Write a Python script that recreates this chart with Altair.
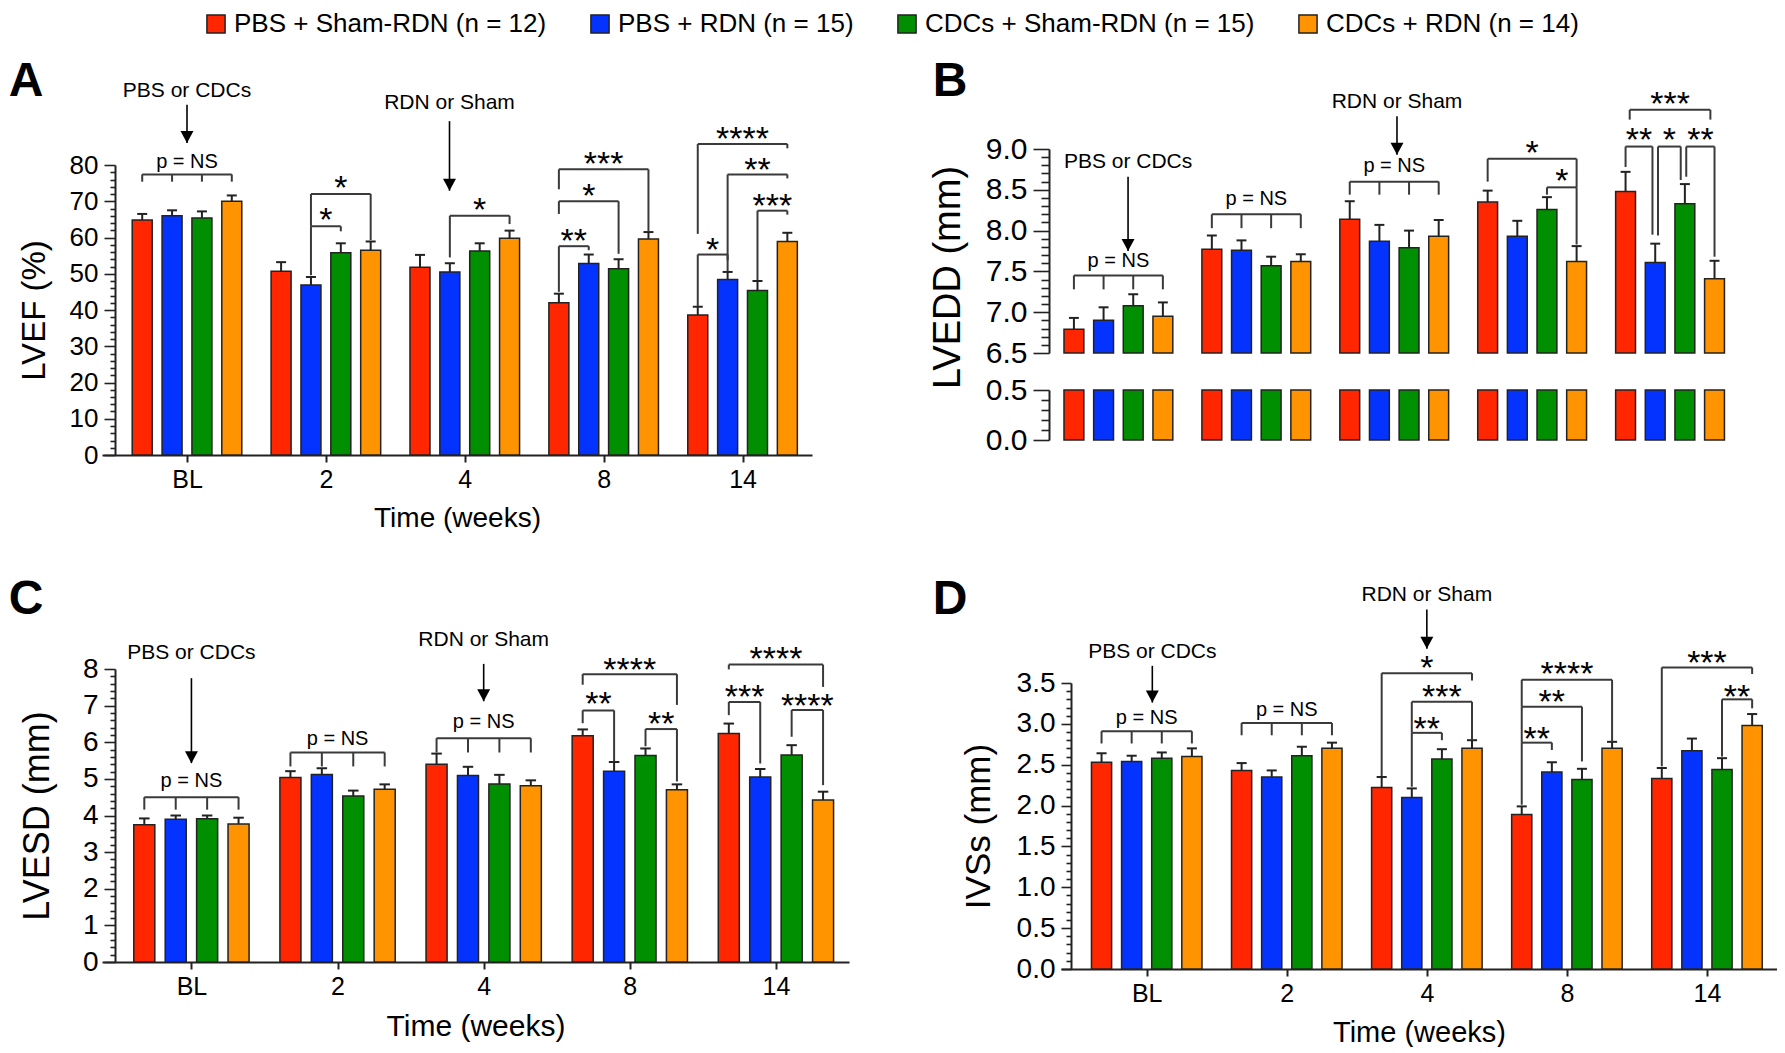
import altair as alt
import pandas as pd

FONT = "Liberation Sans"
INK = "#222222"
BRK = "#3a3a3a"

groups = ["BL", "2", "4", "8", "14"]
series = ["PBS + Sham-RDN (n = 12)", "PBS + RDN (n = 15)",
          "CDCs + Sham-RDN (n = 15)", "CDCs + RDN (n = 14)"]
colors = ["#ff2600", "#0433ff", "#008f00", "#ff9300"]

# ---- values (mean, SEM) : rows = series, columns = time points ----
lvef_mean = [[64.8, 50.7, 51.8, 42.0, 38.6], [66.0, 46.9, 50.5, 52.8, 48.4],
             [65.4, 55.8, 56.3, 51.4, 45.4], [70.0, 56.5, 59.8, 59.6, 58.9]]
lvef_sem = [[1.7, 2.5, 3.4, 2.5, 2.3], [1.5, 2.2, 2.4, 2.5, 2.1],
            [1.8, 2.6, 2.1, 2.6, 2.6], [1.6, 2.4, 2.1, 1.9, 2.4]]

lvedd_mean = [[6.79, 7.77, 8.14, 8.35, 8.48], [6.90, 7.76, 7.87, 7.93, 7.61],
              [7.08, 7.57, 7.79, 8.26, 8.33], [6.95, 7.62, 7.93, 7.62, 7.41]]
lvedd_sem = [[0.14, 0.17, 0.22, 0.14, 0.24], [0.16, 0.12, 0.20, 0.19, 0.23],
             [0.14, 0.11, 0.21, 0.15, 0.24], [0.17, 0.09, 0.20, 0.19, 0.22]]

lvesd_mean = [[3.75, 5.04, 5.40, 6.18, 6.24], [3.90, 5.12, 5.09, 5.21, 5.05],
              [3.91, 4.53, 4.86, 5.64, 5.65], [3.77, 4.72, 4.81, 4.70, 4.42]]
lvesd_sem = [[0.17, 0.17, 0.29, 0.17, 0.27], [0.10, 0.17, 0.24, 0.25, 0.22],
             [0.09, 0.15, 0.25, 0.19, 0.27], [0.17, 0.13, 0.15, 0.15, 0.23]]

ivss_mean = [[2.53, 2.43, 2.22, 1.89, 2.33], [2.54, 2.35, 2.10, 2.41, 2.67],
             [2.58, 2.61, 2.57, 2.32, 2.44], [2.60, 2.70, 2.70, 2.70, 2.98]]
ivss_sem = [[0.11, 0.09, 0.13, 0.10, 0.13], [0.07, 0.08, 0.11, 0.12, 0.15],
            [0.07, 0.11, 0.12, 0.13, 0.14], [0.10, 0.07, 0.10, 0.08, 0.14]]

# ---- significance annotations ----
# "p = NS" brackets: (time index, bracket height, leg end, label height)
ns_A = [(0, 77.4, 75.4, 80.8)]
ns_B = [(0, 7.45, 7.28, 7.63), (1, 8.20, 8.03, 8.39), (2, 8.60, 8.44, 8.79)]
ns_C = [(0, 4.50, 4.16, 4.93), (1, 5.72, 5.34, 6.09), (2, 6.11, 5.72, 6.54)]
ns_D = [(0, 2.91, 2.76, 3.07), (1, 3.01, 2.86, 3.17)]

# pairwise brackets: (time, left group, right group, height, left leg end,
#                     right leg end, stars, star height, left inset, right inset)
br_A = [(1, 1, 2, 63.1, 49.6, 61.7, "*", 66.4, 0, 0),
        (1, 1, 3, 72.0, 63.1, 59.3, "*", 75.4, 0, 0),
        (2, 1, 3, 66.0, 54.5, 63.7, "*", 69.2, 0, 0),
        (3, 0, 1, 57.6, 45.0, 56.5, "**", 60.8, 0, 0),
        (3, 0, 2, 70.0, 66.5, 55.5, "*", 73.0, 0, 0),
        (3, 0, 3, 78.8, 73.3, 61.7, "***", 82.0, 0, 0),
        (4, 0, 1, 55.3, 41.0, 53.7, "*", 58.2, 0, 0),
        (4, 2, 3, 67.4, 48.2, 66.3, "***", 70.4, 0, 0),
        (4, 1, 3, 77.4, 50.7, 76.3, "**", 80.4, 0, 0),
        (4, 0, 3, 85.8, 61.0, 84.6, "****", 88.8, 0, 0)]
br_B = [(3, 0, 3, 8.88, 8.60, 8.53, "*", 9.03, 0, 0),
        (3, 2, 3, 8.53, 8.44, 7.83, "*", 8.68, 0, 0),
        (4, 0, 3, 9.48, 9.36, 9.36, "***", 9.63, 0.03, -0.03),
        (4, 0, 1, 9.03, 8.78, 7.95, "**", 9.18, 0, -0.02),
        (4, 1, 2, 9.03, 7.94, 8.62, "*", 9.18, 0.02, -0.03),
        (4, 2, 3, 9.03, 8.66, 7.68, "**", 9.18, 0.01, 0)]
br_C = [(3, 0, 1, 6.87, 6.52, 5.48, "**", 7.20, 0, 0),
        (3, 2, 3, 6.36, 5.89, 4.93, "**", 6.66, 0, 0),
        (3, 0, 3, 7.86, 7.57, 7.02, "****", 8.14, 0, 0),
        (4, 0, 3, 8.12, 7.99, 7.51, "****", 8.44, 0, 0),
        (4, 0, 1, 7.10, 6.74, 5.42, "***", 7.40, 0, 0),
        (4, 2, 3, 6.88, 6.15, 4.83, "****", 7.16, 0, 0)]
br_D = [(2, 0, 3, 3.62, 2.36, 3.53, "*", 3.76, 0, 0),
        (2, 1, 3, 3.27, 2.89, 2.80, "***", 3.40, 0, 0),
        (2, 1, 2, 2.89, 2.23, 2.80, "**", 3.01, 0, 0),
        (3, 0, 1, 2.77, 2.01, 2.68, "**", 2.89, 0, 0),
        (3, 0, 2, 3.21, 2.77, 2.54, "**", 3.34, 0, 0),
        (3, 0, 3, 3.54, 3.21, 2.78, "****", 3.68, 0, 0),
        (4, 0, 3, 3.69, 2.48, 3.61, "***", 3.82, 0, 0),
        (4, 2, 3, 3.30, 2.60, 3.19, "**", 3.40, 0, 0)]

# intervention arrows: (x position on time axis, text height, line start, arrow tip, text)
ar_A = [(0.0, 100.5, 96.6, 86.1, "PBS or CDCs"), (1.89, 97.1, 92.1, 72.9, "RDN or Sham")]
ar_B = [(0.07, 8.84, 8.66, 7.75, "PBS or CDCs"), (2.02, 9.57, 9.40, 8.93, "RDN or Sham")]
ar_C = [(0.0, 8.45, 7.75, 5.43, "PBS or CDCs"), (2.0, 8.80, 8.14, 7.12, "RDN or Sham")]
ar_D = [(0.04, 3.88, 3.71, 3.26, "PBS or CDCs"), (2.0, 4.58, 4.40, 3.92, "RDN or Sham")]

# ---- geometry / style ----
STEP, HALF, CAP = 0.215, 0.072, 0.036
XDOM = [-0.612, 4.5]
x_label_expr = "[" + ",".join("'%s'" % g for g in groups) + "][datum.value]"
color_scale = alt.Scale(domain=series, range=colors)
legend = alt.Legend(title=None, orient="none", legendX=101, legendY=-138,
                    direction="horizontal", symbolType="square", symbolSize=330,
                    symbolStrokeColor=INK, symbolStrokeWidth=1.5, symbolOpacity=1,
                    labelFont=FONT, labelFontSize=26, labelColor="black",
                    columnPadding=40, labelOffset=5, labelLimit=0)


def xpos(g, s):
    return g + (s - 1.5) * STEP


def long_df(means, sems):
    rows = []
    for s, name in enumerate(series):
        for g in range(len(groups)):
            rows.append(dict(name=name, si=s, g=g, mean=means[s][g],
                             top=means[s][g] + sems[s][g]))
    return pd.DataFrame(rows)


def x_axis(title_size):
    return alt.Axis(values=list(range(len(groups))), labelExpr=x_label_expr,
                    tickCount=50,
                    title="Time (weeks)", grid=False, tickSize=7, tickWidth=2,
                    tickColor=INK, domainColor=INK, domainWidth=2,
                    labelFont=FONT, labelFontSize=25, labelColor="black",
                    labelPadding=5, labelFlush=False, labelOverlap=False,
                    titleFont=FONT, titleFontSize=title_size, titleFontWeight="normal",
                    titleColor="black", titlePadding=12)


def y_axis(values, fmt, title, offset, label_size, title_size, title_pad,
           tick_len, title_y=None):
    kw = dict(values=values, tickCount=500, format=fmt, orient="left", tickSize=tick_len,
              tickWidth=1.6, tickColor=INK, domainColor=INK, domainWidth=2,
              grid=False, offset=offset, labelFont=FONT, labelFontSize=label_size,
              labelColor="black", labelPadding=6, labelOverlap=False, labelFlush=False,
              titleFont=FONT, titleFontSize=title_size, titleFontWeight="normal",
              titleColor="black", titlePadding=title_pad, title=title)
    if title_y is not None:
        kw["titleY"] = title_y
    return alt.Axis(**kw)


def minor_ticks(xscale, yscale, values, offset, tick_len):
    """Second (label-less) axis on an identical scale that draws the minor ticks."""
    return alt.Chart(pd.DataFrame({"g": [0.0], "v": [values[0]]})).mark_point(
        opacity=0).encode(
        x=alt.X("g:Q", scale=xscale),
        y=alt.Y("v:Q", scale=yscale,
                axis=alt.Axis(values=values, tickCount=500, orient="left", offset=offset,
                              labels=False, domain=False, grid=False, tickSize=tick_len,
                              tickWidth=1.6, tickColor=INK, title=None)))


def bar_layers(df, xscale, yscale, yax, xax, ybase, with_errors=True):
    base = alt.Chart(df).transform_calculate(
        xc="datum.g + (datum.si - 1.5) * %s" % STEP,
    ).transform_calculate(
        xl="datum.xc - %s" % HALF, xr="datum.xc + %s" % HALF,
        cl="datum.xc - %s" % CAP, cr="datum.xc + %s" % CAP,
    )
    bars = base.mark_bar(stroke=INK, strokeWidth=1.5, opacity=1).encode(
        x=alt.X("xl:Q", scale=xscale, axis=xax),
        x2="xr:Q",
        y=alt.Y("mean:Q", scale=yscale, axis=yax),
        y2=alt.datum(ybase),
        color=alt.Color("name:N", scale=color_scale, legend=legend, sort=series),
    )
    layers = [bars]
    if with_errors:
        stems = base.mark_rule(color=INK, strokeWidth=2).encode(
            x=alt.X("xc:Q", scale=xscale), y=alt.Y("mean:Q", scale=yscale), y2="top:Q")
        caps = base.mark_rule(color=INK, strokeWidth=2).encode(
            x=alt.X("cl:Q", scale=xscale), x2="cr:Q", y=alt.Y("top:Q", scale=yscale))
        layers += [stems, caps]
    return layers


def annotation_layers(xscale, yscale, ns, brs, arrows, star_size):
    segs, stars, nslab = [], [], []
    for g, yt, yl, ly in ns:
        segs.append(dict(x=xpos(g, 0), x2=xpos(g, 3), y=yt, y2=yt))
        for s in range(4):
            segs.append(dict(x=xpos(g, s), x2=xpos(g, s), y=yt, y2=yl))
        nslab.append(dict(x=g, y=ly, t="p = NS"))
    for g, sl, sr, yt, yl, yr, lab, ly, dl, dr in brs:
        xl, xr = xpos(g, sl) + dl, xpos(g, sr) + dr
        segs.append(dict(x=xl, x2=xr, y=yt, y2=yt))
        segs.append(dict(x=xl, x2=xl, y=yt, y2=yl))
        segs.append(dict(x=xr, x2=xr, y=yt, y2=yr))
        stars.append(dict(x=(xl + xr) / 2, y=ly, t=lab))
    alines, aheads, atext = [], [], []
    for x, yt, ys, ye, lab in arrows:
        alines.append(dict(x=x, y=ys, y2=ye))
        aheads.append(dict(x=x, y=ye))
        atext.append(dict(x=x, y=yt, t=lab))
    X = lambda f: alt.X(f, scale=xscale)
    Y = lambda f: alt.Y(f, scale=yscale)
    layers = [
        alt.Chart(pd.DataFrame(segs)).mark_rule(color=BRK, strokeWidth=2).encode(
            x=X("x:Q"), x2="x2:Q", y=Y("y:Q"), y2="y2:Q"),
        alt.Chart(pd.DataFrame(alines)).mark_rule(color="black", strokeWidth=1.6).encode(
            x=X("x:Q"), y=Y("y:Q"), y2="y2:Q"),
        alt.Chart(pd.DataFrame(aheads)).mark_point(
            shape="M-1.08,-2L1.08,-2L0,0Z", size=144, filled=True, color="black",
            opacity=1, strokeWidth=0).encode(x=X("x:Q"), y=Y("y:Q")),
        alt.Chart(pd.DataFrame(atext)).mark_text(
            font=FONT, fontSize=21, color="black", baseline="middle").encode(
            x=X("x:Q"), y=Y("y:Q"), text="t:N"),
    ]
    if nslab:
        layers.append(alt.Chart(pd.DataFrame(nslab)).mark_text(
            font=FONT, fontSize=20, color="black", baseline="middle").encode(
            x=X("x:Q"), y=Y("y:Q"), text="t:N"))
    if stars:
        layers.append(alt.Chart(pd.DataFrame(stars)).mark_text(
            font=FONT, fontSize=star_size, color="black", baseline="middle",
            dy=round(star_size * 0.2)).encode(x=X("x:Q"), y=Y("y:Q"), text="t:N"))
    return layers


def letter(ch, px, py):
    return alt.Chart(pd.DataFrame({"t": [ch]})).mark_text(
        font=FONT, fontSize=48, fontWeight="bold", color="black",
        baseline="middle", align="center").encode(
        x=alt.value(px), y=alt.value(py), text="t:N")


def steps(lo, hi, st):
    n = int(round((hi - lo) / st))
    return [round(lo + i * st, 3) for i in range(n + 1)]


def minor_only(lo, hi, st, major):
    return [v for v in steps(lo, hi, st) if v not in steps(lo, hi, major)]


STAR = 34

# ---- Panel A (cell 710 x 306, plot area placed lower by 16 px) ----
xsA = alt.Scale(domain=XDOM, nice=False, zero=False, range=[0, 710])
ysA = alt.Scale(domain=[0, 80], nice=False, zero=False, range=[306, 16])
yaA = y_axis(steps(0, 80, 10), "d", "LVEF (%)", -13, 26, 33, 18, 11)
A = alt.layer(*bar_layers(long_df(lvef_mean, lvef_sem), xsA, ysA, yaA, x_axis(28), 0),
              *annotation_layers(xsA, ysA, ns_A, br_A, ar_A, STAR),
              letter("A", -76, -67))
A = alt.layer(A, minor_ticks(xsA, ysA, minor_only(0, 80, 2, 10), -13, 5)).resolve_scale(
    y="independent").properties(width=710, height=306)

# ---- Panel B (broken axis: two y scales in one cell) ----
xsB = alt.Scale(domain=XDOM, nice=False, zero=False, range=[0, 705])
ysBt = alt.Scale(domain=[6.5, 9.0], nice=False, zero=False, range=[204, 0])
yaBt = y_axis(steps(6.5, 9.0, 0.5), ".1f", "LVEDD (mm)", -15, 30, 38, 18, 16, title_y=128)
ysBb = alt.Scale(domain=[0, 0.5], nice=False, zero=False, clamp=True, range=[291, 241])
yaBb = y_axis(steps(0, 0.5, 0.5), ".1f", None, -15, 30, 38, 18, 16)
dfB = long_df(lvedd_mean, lvedd_sem)
B_top = alt.layer(*bar_layers(dfB, xsB, ysBt, yaBt, None, 6.5),
                  *annotation_layers(xsB, ysBt, ns_B, br_B, ar_B, STAR),
                  letter("B", -84, -67))
B_bot = alt.layer(*bar_layers(dfB, xsB, ysBb, yaBb, x_axis(31), 0, with_errors=False))
B = alt.layer(B_top, minor_ticks(xsB, ysBt, minor_only(6.5, 9.0, 0.1, 0.5), -15, 8),
              B_bot, minor_ticks(xsB, ysBb, minor_only(0, 0.5, 0.1, 0.5), -15, 8)).resolve_scale(
    y="independent").properties(width=705, height=291)

# ---- Panel C ----
xsC = alt.Scale(domain=XDOM, nice=False, zero=False, range=[0, 747])
ysC = alt.Scale(domain=[0, 8], nice=False, zero=False, range=[293, 0])
yaC = y_axis(steps(0, 8, 1), "d", "LVESD (mm)", -13, 28, 36, 26, 11)
C = alt.layer(*bar_layers(long_df(lvesd_mean, lvesd_sem), xsC, ysC, yaC, x_axis(30), 0),
              *annotation_layers(xsC, ysC, ns_C, br_C, ar_C, STAR),
              letter("C", -76, -69))
C = alt.layer(C, minor_ticks(xsC, ysC, minor_only(0, 8, 0.2, 1), -13, 5)).resolve_scale(
    y="independent").properties(width=747, height=293)

# ---- Panel D (cell 743 x 300, plot area shifted right 27 px and down 14 px) ----
xsD = alt.Scale(domain=XDOM, nice=False, zero=False, range=[27, 743])
ysD = alt.Scale(domain=[0, 3.5], nice=False, zero=False, range=[300, 14])
yaD = y_axis(steps(0, 3.5, 0.5), ".1f", "IVSs (mm)", -37, 28, 35, 20, 10)
D = alt.layer(*bar_layers(long_df(ivss_mean, ivss_sem), xsD, ysD, yaD, x_axis(29), 0),
              *annotation_layers(xsD, ysD, ns_D, br_D, ar_D, STAR),
              letter("D", -84, -69))
D = alt.layer(D, minor_ticks(xsD, ysD, minor_only(0, 3.5, 0.1, 0.5), -37, 5)).resolve_scale(
    y="independent").properties(width=743, height=300)

chart = alt.concat(A, B, C, D, columns=2, spacing={"row": 214, "column": 185},
                   bounds="flush", align="each").resolve_scale(
    color="shared").resolve_legend(color="shared").properties(
    padding={"top": 3, "left": 0, "right": 0, "bottom": 0},
    background="white").configure_view(stroke=None)

chart.save("out.html", embed_options={"renderer": "svg", "actions": False})
